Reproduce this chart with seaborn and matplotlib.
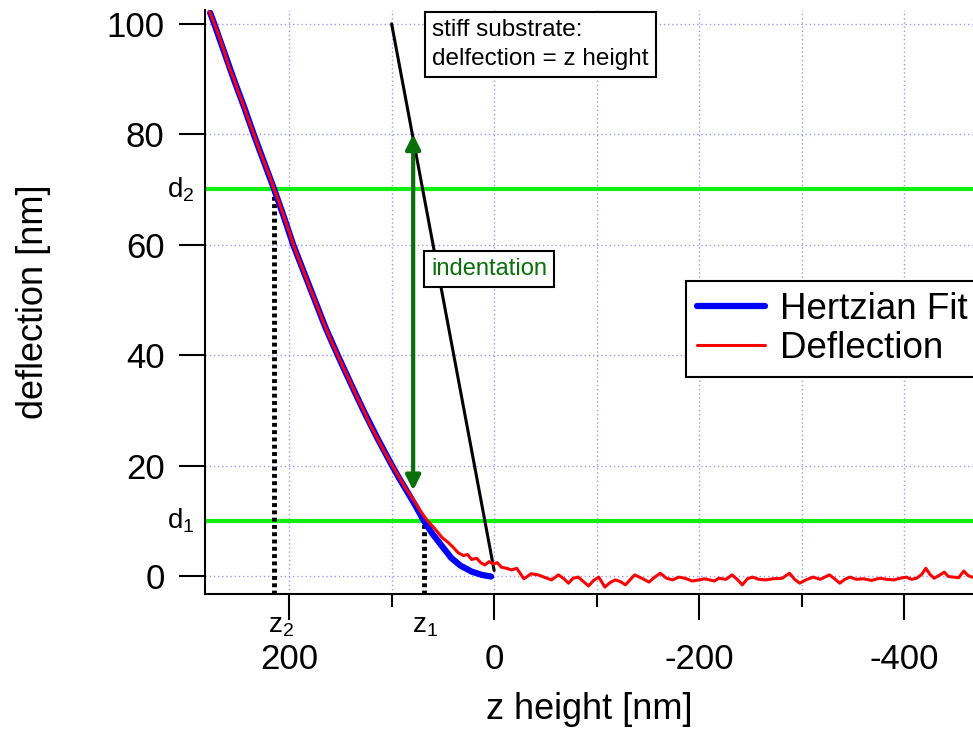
import numpy as np
import pandas as pd
import matplotlib
matplotlib.use('Agg')
import matplotlib.pyplot as plt
import seaborn as sns
from matplotlib.ticker import MultipleLocator
import matplotlib.transforms as mtrans

#%% data
fit_z = [277, 273, 263.5, 254, 244, 234.5, 224.5, 214.5, 205, 196, 185.5, 175, 164.5,
         152.6, 140.2, 127.5, 114, 99.6, 92, 83.9, 76, 68.6, 60, 50, 42, 33, 22, 12, 3]
fit_d = [102, 100, 95, 90, 85, 80, 75, 70, 65, 60, 55, 50, 45,
         40, 35, 30, 25, 20, 17.5, 15, 12.5, 10, 7.6, 5.2, 3.3, 1.9, 0.8, 0.2, -0.1]

defl_z = [277.5, 273, 268, 263.5, 259, 254, 249, 244, 239, 234.5, 229, 224.5, 219, 214.5,
          210, 205, 200, 196, 191, 185.5, 180, 175, 170, 164.5, 158, 152.6, 146, 140, 134,
          127.5, 121, 114, 107, 100, 93, 86, 79, 72, 65, 58, 51, 45, 40, 35, 30, 26, 22, 17,
          13, 9, 5, 1, -3, -7, -12, -17, -22, -29, -36, -43, -50, -56, -62.7, -68, -72.5,
          -77, -82, -87, -92, -97, -102, -108, -113, -118, -123, -128, -133, -137, -144,
          -151, -156, -162, -168, -174, -180, -186, -193, -200, -205, -210, -215, -219,
          -226, -232, -237, -242, -247, -252, -258, -265, -272, -281, -288, -293, -298,
          -304, -311, -318, -327, -332, -337, -342, -347, -353, -360, -368, -376, -383,
          -390, -396, -402, -407, -412, -417, -421, -425, -429, -434, -439, -443, -448,
          -453, -458, -462, -466]
defl_d = [102.2, 100.1, 97.6, 95.1, 92.4, 90.1, 87.4, 85.0, 82.3, 80.1, 77.2, 75.0, 72.4,
          70.0, 67.8, 65.1, 62.4, 60.1, 57.6, 55.0, 52.3, 50.0, 47.6, 45.0, 42.2, 40.0,
          37.3, 35.0, 32.5, 30.1, 27.4, 25.0, 22.5, 20.2, 18.0, 15.8, 13.9, 11.8, 10.0,
          8.6, 7.0, 6.1, 5.2, 4.2, 3.7, 3.9, 3.0, 3.2, 2.4, 2.0, 2.6, 2.2, 2.4, 1.6, 1.4,
          1.1, 1.4, -0.5, 0.4, 0.2, -0.3, -0.7, 0.2, -0.5, -1.3, -0.4, -0.2, -1.0, -1.8,
          -0.8, -0.2, -2.0, -1.2, -0.7, -1.0, -1.6, -0.6, 0.2, -0.4, -1.1, -0.3, 0.5,
          -0.4, -0.7, -0.2, -0.4, -0.9, -0.7, -0.5, -0.7, -0.9, -0.4, -0.6, 0.2, -0.6,
          -1.6, -0.5, -0.2, -0.6, -0.7, -0.5, -0.4, 0.5, -0.6, -1.3, -0.7, -0.2, -0.6,
          0.2, -0.5, -1.3, -0.6, -0.2, -0.6, -0.5, -0.8, -0.4, -0.6, -0.7, -0.4, -0.2,
          -0.6, -0.4, 0.3, 1.4, 0.3, -0.4, 0.1, 0.7, -0.1, -0.2, -0.3, 0.9, 0.1, -0.2]

stiff_z = [100, 0]
stiff_d = [100, 1]

d_levels = [70, 10]          # d2, d1
z_levels = [215, 68.6]       # z2, z1
z_label_pos = [208, 67]
indent_z = 79
indent_d = [15.5, 80]

fitDF = pd.DataFrame({'z': fit_z, 'd': fit_d})
deflDF = pd.DataFrame({'z': defl_z, 'd': defl_d})

#%% plotting
sns.set_style('ticks')
plt.rcParams['font.family'] = ['Liberation Sans', 'DejaVu Sans']
plt.rcParams['mathtext.fontset'] = 'custom'
plt.rcParams['mathtext.rm'] = 'Liberation Sans'
plt.rcParams['mathtext.default'] = 'regular'
plt.rcParams['axes.unicode_minus'] = False
for key in ['text.color', 'axes.labelcolor', 'xtick.color', 'ytick.color', 'axes.edgecolor']:
    plt.rcParams[key] = 'black'

fig = plt.figure(figsize=(9.73, 7.31), dpi=100)
ax = fig.add_axes([0.2107, 0.1874, 0.7893, 0.7989])

gridCol = '#9a9aff'
ax.set_xlim(282, -467)
ax.set_ylim(-3.26, 102.5)
ax.xaxis.set_major_locator(MultipleLocator(200))
ax.xaxis.set_minor_locator(MultipleLocator(100))
ax.yaxis.set_major_locator(MultipleLocator(20))
ax.grid(True, which='both', axis='x', color=gridCol, ls=(0, (1, 2)), lw=1)
ax.grid(True, which='major', axis='y', color=gridCol, ls=(0, (1, 2)), lw=1)
ax.set_axisbelow(True)

for dl in d_levels:
    ax.axhline(dl, color='#11ee11', lw=3, zorder=2)
for zl, dl in zip(z_levels, d_levels):
    ax.plot([zl, zl], [-3.26, dl], color='black', lw=3.5, ls=(0, (0.8, 0.7)), zorder=2)

ax.plot(stiff_z, stiff_d, color='black', lw=2.2, zorder=3)

sns.lineplot(data=fitDF, x='z', y='d', ax=ax, color='#0000ff', lw=4.5, sort=False,
             estimator=None, label='Hertzian Fit', zorder=4)
sns.lineplot(data=deflDF, x='z', y='d', ax=ax, color='#ff0000', lw=2.2, sort=False,
             estimator=None, label='Deflection', zorder=5)

ax.annotate('', xy=(indent_z, indent_d[0]), xytext=(indent_z, indent_d[1]),
            arrowprops=dict(arrowstyle='<|-|>', color='#0a6e0a', lw=3,
                            mutation_scale=22, shrinkA=0, shrinkB=0), zorder=6)
ax.text(5, 55.6, 'indentation', color='#0a6e0a', fontsize=17, ha='center', va='center',
        bbox=dict(boxstyle='square,pad=0.3', fc='white', ec='black', lw=1.5), zorder=7)
ax.text(60.5, 100.8, 'stiff substrate:\ndelfection = z height', fontsize=17.5,
        ha='left', va='top', linespacing=1.4,
        bbox=dict(boxstyle='square,pad=0.3', fc='white', ec='black', lw=1.5), zorder=7)

# d and z markers outside the axes
yTrans = mtrans.blended_transform_factory(ax.transAxes, ax.transData)
xTrans = mtrans.blended_transform_factory(ax.transData, ax.transAxes)
for lab, dl in zip(['d$_2$', 'd$_1$'], d_levels):
    ax.text(-0.031, dl, lab, transform=yTrans, fontsize=20, ha='center', va='center')
for lab, zl in zip(['z$_2$', 'z$_1$'], z_label_pos):
    ax.text(zl, -0.055, lab, transform=xTrans, fontsize=20, ha='center', va='center')

for sp in ['top', 'right']:
    ax.spines[sp].set_visible(False)
for sp in ['left', 'bottom']:
    ax.spines[sp].set_linewidth(1.5)
ax.tick_params(axis='both', which='major', length=19, width=1.5, labelsize=25)
ax.tick_params(axis='x', which='major', pad=16)
ax.tick_params(axis='y', which='major', pad=10)
ax.tick_params(axis='x', which='minor', length=9, width=1.5)

ax.set_xlabel('z height [nm]', fontsize=26, labelpad=12)
ax.set_ylabel('deflection [nm]', fontsize=26)
ax.yaxis.set_label_coords(-0.20, 0.5)

leg = ax.legend(loc='upper left', bbox_to_anchor=(0.626, 0.536), borderaxespad=0,
                fontsize=26.5, frameon=True, fancybox=False, framealpha=1,
                handlelength=1.85, handletextpad=0.4, labelspacing=0.1, borderpad=0.3)
leg.get_frame().set_edgecolor('black')
leg.get_frame().set_linewidth(1.5)

fig.savefig('out.png', dpi=100)
